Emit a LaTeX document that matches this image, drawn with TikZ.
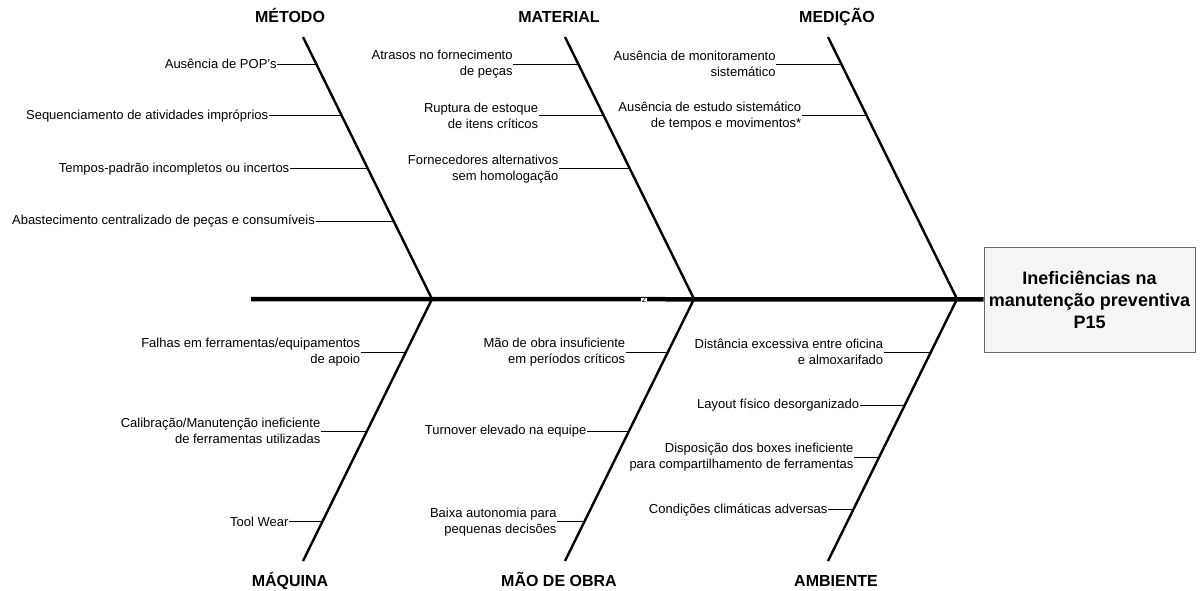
\documentclass[tikz,border=0pt]{standalone}
\usepackage{fontspec}
\setmainfont{Liberation Sans}
\usepackage{tikz}
\usetikzlibrary{calc, positioning}
\definecolor{boxfill}{HTML}{F5F5F5}
\definecolor{boxline}{HTML}{666666}

\begin{document}
\begin{tikzpicture}[x=1pt, y=-1pt,
    spine/.style={line width=4.5pt},
    bone/.style={line width=2.4pt},
    branch/.style={line width=1pt},
    cause/.style={font=\fontsize{13}{15.5}\selectfont, align=right, inner sep=0.5pt},
    head/.style={font=\bfseries\fontsize{16}{19}\selectfont, anchor=base},
    effect/.style={draw=boxline, fill=boxfill, line width=1pt, minimum width=211pt, minimum height=105pt,
        align=center, font=\bfseries\fontsize{18}{22}\selectfont}]
    \useasboundingbox (0,0) rectangle (1201,591);

    % Effect and spine
    \node[effect] (effect) at (1089.5,299.5) {Ineficiências na\\manutenção preventiva\\P15};
    \coordinate (tail) at (251,299);
    \draw[spine] (tail) -- (effect);
    \node[fill=white, inner sep=0.6pt, font=\fontsize{9}{9}\selectfont] (zmark) at (644,300.5) {z};

    % Joints and bone ends
    \coordinate (jA) at (432,299);
    \coordinate (jB) at (694,299);
    \coordinate (jC) at (957,299);
    \coordinate (metodoTop) at (303,37);
    \coordinate (materialTop) at (565,37);
    \coordinate (medicaoTop) at (828,37);
    \coordinate (maquinaEnd) at (303,561);
    \coordinate (maoEnd) at (565,561);
    \coordinate (ambienteEnd) at (828,561);
    \draw[bone] (metodoTop) -- (jA);
    \draw[bone] (materialTop) -- (jB);
    \draw[bone] (medicaoTop) -- (jC);
    \draw[bone] (jA) -- (maquinaEnd);
    \draw[bone] (jB) -- (maoEnd);
    \draw[bone] (jC) -- (ambienteEnd);

    % Categories
    \node[head] (metodo) at (290,23) {MÉTODO};
    \node[head] (material) at (559,23) {MATERIAL};
    \node[head] (medicao) at (837,23) {MEDIÇÃO};
    \node[head] (maquina) at (290,586.5) {MÁQUINA};
    \node[head] (maoobra) at (559,586.5) {MÃO DE OBRA};
    \node[head] (ambiente) at (836,586.5) {AMBIENTE};

    % Metodo
    \coordinate (m1) at ($(metodoTop)!0.1031!(jA)$);
    \coordinate (m2) at ($(metodoTop)!0.3015!(jA)$);
    \coordinate (m3) at ($(metodoTop)!0.5038!(jA)$);
    \coordinate (m4) at ($(metodoTop)!0.7023!(jA)$);
    \node[cause, left=39pt of m1] (pops) {Ausência de POP's};
    \node[cause, left=73pt of m2] (sequencia) {Sequenciamento de atividades impróprios};
    \node[cause, left=78pt of m3] (tempos) {Tempos-padrão incompletos ou incertos};
    \node[cause, left=78pt of m4] (abastece) {Abastecimento centralizado de peças e consumíveis};
    \draw[branch] (pops) -- (m1);
    \draw[branch] (sequencia) -- (m2);
    \draw[branch] (tempos) -- (m3);
    \draw[branch] (abastece) -- (m4);

    % Material
    \coordinate (t1) at ($(materialTop)!0.1031!(jB)$);
    \coordinate (t2) at ($(materialTop)!0.3015!(jB)$);
    \coordinate (t3) at ($(materialTop)!0.5038!(jB)$);
    \node[cause, left=65pt of t1] (atrasos) {Atrasos no fornecimento\\de peças};
    \node[cause, left=65pt of t2] (ruptura) {Ruptura de estoque\\de itens críticos};
    \node[cause, left=71pt of t3] (fornece) {Fornecedores alternativos\\sem homologação};
    \draw[branch] (atrasos) -- (t1);
    \draw[branch] (ruptura) -- (t2);
    \draw[branch] (fornece) -- (t3);

    % Medicao
    \coordinate (d1) at ($(medicaoTop)!0.1031!(jC)$);
    \coordinate (d2) at ($(medicaoTop)!0.3015!(jC)$);
    \node[cause, left=65pt of d1] (monitora) {Ausência de monitoramento\\sistemático};
    \node[cause, left=65pt of d2] (estudo) {Ausência de estudo sistemático\\de tempos e movimentos*};
    \draw[branch] (monitora) -- (d1);
    \draw[branch] (estudo) -- (d2);

    % Maquina
    \coordinate (q1) at ($(jA)!0.2023!(maquinaEnd)$);
    \coordinate (q2) at ($(jA)!0.5038!(maquinaEnd)$);
    \coordinate (q3) at ($(jA)!0.8511!(maquinaEnd)$);
    \node[cause, left=45pt of q1] (falhas) {Falhas em ferramentas/equipamentos\\de apoio};
    \node[cause, left=46pt of q2] (calibra) {Calibração/Manutenção ineficiente\\de ferramentas utilizadas};
    \node[cause, left=33pt of q3] (wear) {Tool Wear};
    \draw[branch] (falhas) -- (q1);
    \draw[branch] (calibra) -- (q2);
    \draw[branch] (wear) -- (q3);

    % Mao de obra
    \coordinate (o1) at ($(jB)!0.2023!(maoEnd)$);
    \coordinate (o2) at ($(jB)!0.5038!(maoEnd)$);
    \coordinate (o3) at ($(jB)!0.8511!(maoEnd)$);
    \node[cause, left=42pt of o1] (insufic) {Mão de obra insuficiente\\em períodos críticos};
    \node[cause, left=42pt of o2] (turnover) {Turnover elevado na equipe};
    \node[cause, left=27pt of o3] (autonomia) {Baixa autonomia para\\pequenas decisões};
    \draw[branch] (insufic) -- (o1);
    \draw[branch] (turnover) -- (o2);
    \draw[branch] (autonomia) -- (o3);

    % Ambiente
    \coordinate (a1) at ($(jC)!0.2023!(ambienteEnd)$);
    \coordinate (a2) at ($(jC)!0.4046!(ambienteEnd)$);
    \coordinate (a3) at ($(jC)!0.6031!(ambienteEnd)$);
    \coordinate (a4) at ($(jC)!0.8053!(ambienteEnd)$);
    \node[cause, left=47pt of a1] (distancia) {Distância excessiva entre oficina\\e almoxarifado};
    \node[cause, left=45pt of a2] (layout) {Layout físico desorganizado};
    \node[cause, left=25pt of a3] (boxes) {Disposição dos boxes ineficiente\\para compartilhamento de ferramentas};
    \node[cause, left=25pt of a4] (clima) {Condições climáticas adversas};
    \draw[branch] (distancia) -- (a1);
    \draw[branch] (layout) -- (a2);
    \draw[branch] (boxes) -- (a3);
    \draw[branch] (clima) -- (a4);
\end{tikzpicture}
\end{document}
